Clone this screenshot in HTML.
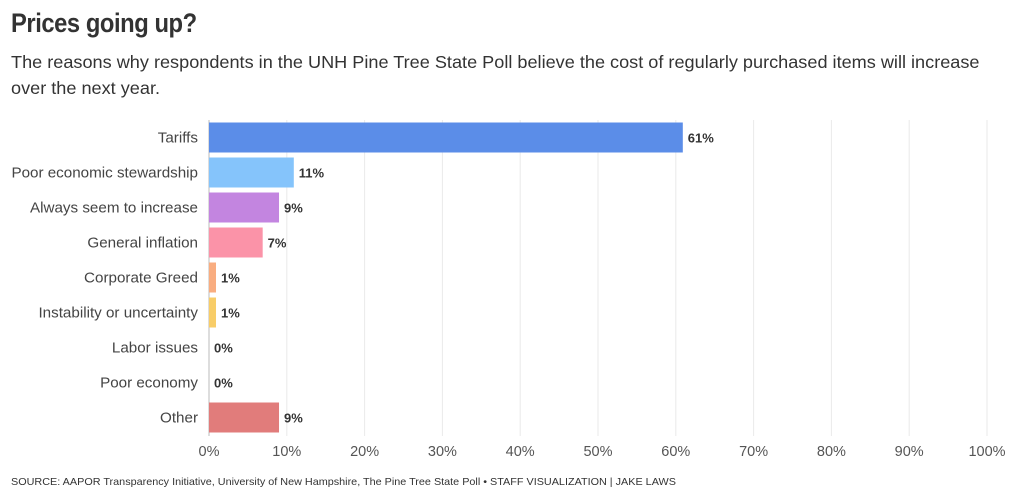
<!DOCTYPE html>
<html><head><meta charset="utf-8"><style>
body{margin:0;width:1020px;height:499px;background:#fff;font-family:"Liberation Sans",sans-serif;color:#333;position:relative;overflow:hidden}
#title{position:absolute;left:11px;top:8px;font-size:27px;font-weight:bold;letter-spacing:-0.5px;transform:scaleX(0.88);transform-origin:left;color:#333}
#sub{position:absolute;left:11px;top:49px;font-size:17.5px;line-height:26px;color:#333;width:1100px;transform:scaleX(1.035);transform-origin:left}
#src{position:absolute;left:11px;top:476px;font-size:10.5px;color:#333;transform:scaleX(1.03);transform-origin:left;white-space:nowrap}
svg{position:absolute;left:0;top:0}
</style></head><body>
<div id="title">Prices going up?</div>
<div id="sub">The reasons why respondents in the UNH Pine Tree State Poll believe the cost of regularly purchased items will increase<br>over the next year.</div>
<svg id="chart" width="1020" height="499"></svg>
<div id="src">SOURCE: AAPOR Transparency Initiative, University of New Hampshire, The Pine Tree State Poll • STAFF VISUALIZATION | JAKE LAWS</div>
<script>
const categories=["Tariffs","Poor economic stewardship","Always seem to increase","General inflation","Corporate Greed","Instability or uncertainty","Labor issues","Poor economy","Other"];
const values=[60.9,10.9,9.0,6.9,0.9,0.9,0,0,9.0];
const labels=["61%","11%","9%","7%","1%","1%","0%","0%","9%"];
const colors=["#5b8de8","#85c4fb","#c385e0","#fb93a8","#f9ad80","#f8cd68","#cccccc","#cccccc","#e17c7b"];
const ticks=[0,10,20,30,40,50,60,70,80,90,100];
const NS="http://www.w3.org/2000/svg";
const svg=document.getElementById('chart');
const x0=209,x1=987,yTop=120,rowH=35,barH=30;
const xs=v=>x0+(x1-x0)*v/100;
const ys=i=>yTop+i*rowH+rowH/2;
function mk(t,a){const e=document.createElementNS(NS,t);for(const k in a)e.setAttribute(k,a[k]);svg.appendChild(e);return e;}
ticks.forEach(t=>{
 const l=mk('line',{x1:xs(t),x2:xs(t),y1:yTop,y2:436,stroke:t===0?'#bbb':'#eaeaea','stroke-width':1});
 
 
 const tx=mk('text',{x:xs(t),y:456,'text-anchor':'middle','font-size':14.5,fill:'#555'});
 tx.textContent=t+'%';
 
 
});
categories.forEach((c,i)=>{
 const y=ys(i);
 const lb=mk('text',{x:198,y:y+5,'text-anchor':'end','font-size':15.2,fill:'#444'});
 lb.textContent=c;
 
 
 const r=mk('rect',{x:x0,y:y-barH/2,width:Math.max(0,xs(values[i])-x0),height:barH,fill:colors[i]});
 
 
 const v=mk('text',{x:xs(values[i])+5,y:y+5,'font-size':13,'font-weight':'bold',fill:'#333'});
 v.textContent=labels[i];
 
 
});
</script>
</body></html>
